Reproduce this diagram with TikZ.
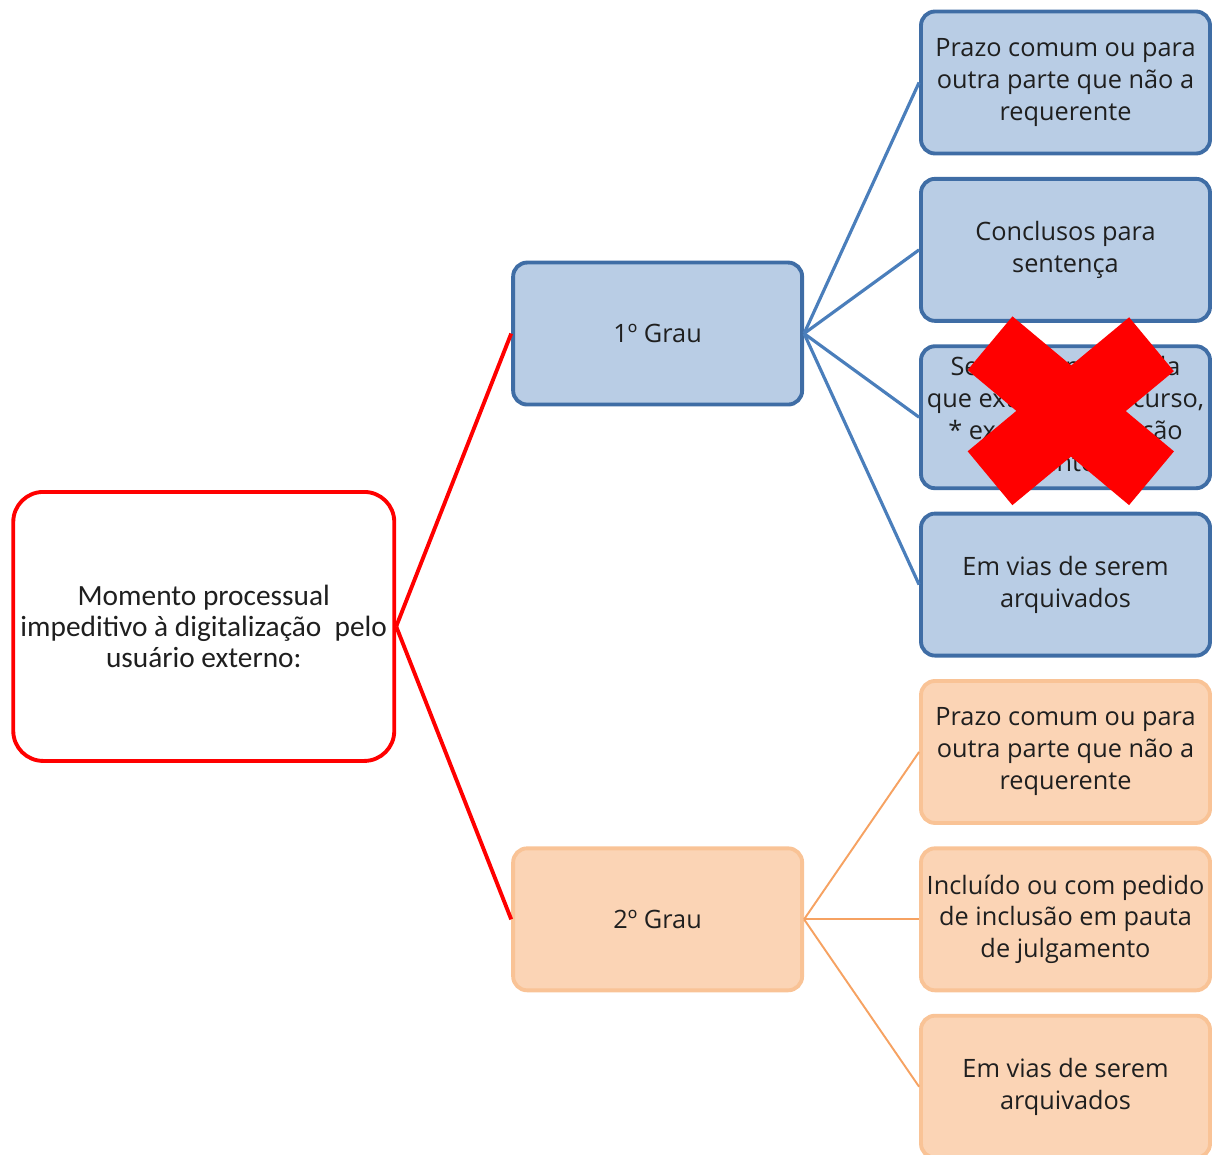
\documentclass[tikz,border=0pt]{standalone}
\usepackage{fontspec}
\setmainfont{Open Sans}
\newfontfamily\rootfont{Carlito}
\usepackage{tikz}
\usetikzlibrary{positioning}
\usetikzlibrary{calc}

\definecolor{boxblue}{HTML}{B9CDE5}
\definecolor{edgeblue}{HTML}{3F6DA5}
\definecolor{lineblue}{HTML}{4A7EBB}
\definecolor{boxorange}{HTML}{FBD4B5}
\definecolor{edgeorange}{HTML}{F9C396}
\definecolor{lineorange}{HTML}{F6A262}
\definecolor{textgray}{HTML}{1F1F1F}

\begin{document}
\begin{tikzpicture}[
  bluebox/.style={draw=edgeblue, fill=boxblue, line width=2.2pt, rounded corners=0.28cm,
    minimum width=5.78cm, minimum height=2.84cm, inner sep=0pt, align=center,
    text=textgray, font=\fontsize{14.4}{18.2}\selectfont},
  orangebox/.style={bluebox, draw=edgeorange, fill=boxorange},
  rootbox/.style={draw=red, fill=white, line width=2.2pt, rounded corners=0.6cm,
    minimum width=7.62cm, minimum height=5.38cm, inner sep=0pt, align=center,
    text=textgray, font=\rootfont\fontsize{16.7}{17.9}\selectfont},
  redline/.style={red, line width=2.2pt},
  blueline/.style={lineblue, line width=1.8pt},
  orangeline/.style={lineorange, line width=1.1pt}
]
\useasboundingbox (0,0) rectangle (24.34,-23.1);

\node (B1) [bluebox] at (21.31,-1.65) {Prazo comum ou para\\outra parte que não a\\requerente};
\node (B2) [bluebox, below=0.43cm of B1] {Conclusos para\\sentença};
\node (B3) [bluebox, below=0.43cm of B2] {Sentença publicada\\que extingue o recurso,\\* exceto a execução\\de sentença};
\node (B4) [bluebox, below=0.43cm of B3] {Em vias de serem\\arquivados};

\node (O1) [orangebox, below=0.43cm of B4] {Prazo comum ou para\\outra parte que não a\\requerente};
\node (O2) [orangebox, below=0.43cm of O1] {Incluído ou com pedido\\de inclusão em pauta\\de julgamento};
\node (O3) [orangebox, below=0.43cm of O2] {Em vias de serem\\arquivados};

\node (G1) [bluebox, left=2.3cm of $(B2.west)!0.5!(B3.west)$] {1º Grau};
\node (G2) [orangebox, left=2.3cm of O2] {2º Grau};

\node (M) [rootbox, left=2.3cm of $(G1.west)!0.5!(G2.west)$] {Momento processual\\impeditivo à digitalização~ pelo\\usuário externo:};

\draw[redline] (M.east) -- (G1.west);
\draw[redline] (M.east) -- (G2.west);

\draw[blueline] (G1.east) -- (B1.west);
\draw[blueline] (G1.east) -- (B2.west);
\draw[blueline] (G1.east) -- (B3.west);
\draw[blueline] (G1.east) -- (B4.west);

\draw[orangeline] (G2.east) -- (O1.west);
\draw[orangeline] (G2.east) -- (O2.west);
\draw[orangeline] (G2.east) -- (O3.west);

% cross over the third box
\coordinate (X) at ($(B3.center)+(0.11,0.12)$);
\draw[red, line width=1.4cm] ($(X)+(-1.62,1.36)$) -- ($(X)+(1.61,-1.34)$);
\draw[red, line width=1.4cm] ($(X)+(1.61,1.34)$) -- ($(X)+(-1.62,-1.34)$);
\end{tikzpicture}
\end{document}
